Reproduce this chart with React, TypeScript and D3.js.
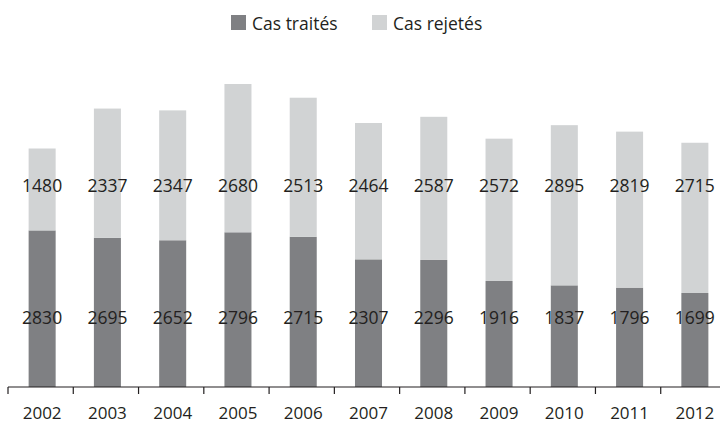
import React from 'react';
import * as d3 from 'd3';

const years = ['2002', '2003', '2004', '2005', '2006', '2007', '2008', '2009', '2010', '2011', '2012'];
const traites = [2830, 2695, 2652, 2796, 2715, 2307, 2296, 1916, 1837, 1796, 1699];
const rejetes = [1480, 2337, 2347, 2680, 2513, 2464, 2587, 2572, 2895, 2819, 2715];
const seriesNames = ['Cas traités', 'Cas rejetés'];
const colors = ['#7f8083', '#d1d3d4'];

const W = 720;
const H = 423;
const baseY = 387;
const font = "'Open Sans', Lato, sans-serif";
const fs = 17.5;
const textColor = '#231f20';

export default function App() {
  const x = d3.scaleBand<string>().domain(years).range([8, 726]).paddingInner(0.586).paddingOuter(0.293);
  const y = d3.scaleLinear().domain([0, 6000]).range([baseY, 55]);

  const rows = years.map((yr, i) => ({ yr, t: traites[i], r: rejetes[i] }));
  const stack = d3.stack<any>().keys(['t', 'r'])(rows);

  // label rows sit at fixed heights, like the original
  const rowTraites = y(1270);
  const rowRejetes = y(3650);
  const tickXs = d3.range(years.length + 1).map(i => 8 + i * x.step());

  return (
    <svg width={W} height={H} style={{ position: 'absolute', left: 0, top: 0 }} fontFamily={font}>
      {/* legend */}
      {seriesNames.map((name, i) => {
        const lx = i === 0 ? 231 : 372;
        return (
          <g key={name}>
            <rect x={lx} y={15} width={15} height={15} fill={colors[i]} />
            <text x={lx + 21} y={22.5} dominantBaseline="central" fontSize={fs} fill={textColor}>{name}</text>
          </g>
        );
      })}

      {stack.map((layer, li) => (
        <g key={li} fill={colors[li]}>
          {layer.map((d, i) => (
            <rect key={i} x={x(years[i])! + 1.5} y={y(d[1])} width={x.bandwidth()} height={y(d[0]) - y(d[1])} />
          ))}
        </g>
      ))}

      {years.map((yr, i) => {
        const cx = x(yr)! + 1.5 + x.bandwidth() / 2;
        return (
          <g key={yr} fontSize={fs} fill={textColor} textAnchor="middle">
            <text x={cx} y={rowTraites} dominantBaseline="central">{traites[i]}</text>
            <text x={cx} y={rowRejetes} dominantBaseline="central">{rejetes[i]}</text>
            <text x={cx} y={418.5} fontSize={17}>{yr}</text>
          </g>
        );
      })}

      {/* axis */}
      <line x1={8} x2={W} y1={baseY} y2={baseY} stroke={textColor} strokeWidth={1.2} />
      {tickXs.map((tx, i) => (
        <line key={i} x1={tx} x2={tx} y1={baseY} y2={baseY + 7} stroke={textColor} strokeWidth={1.2} />
      ))}
    </svg>
  );
}
